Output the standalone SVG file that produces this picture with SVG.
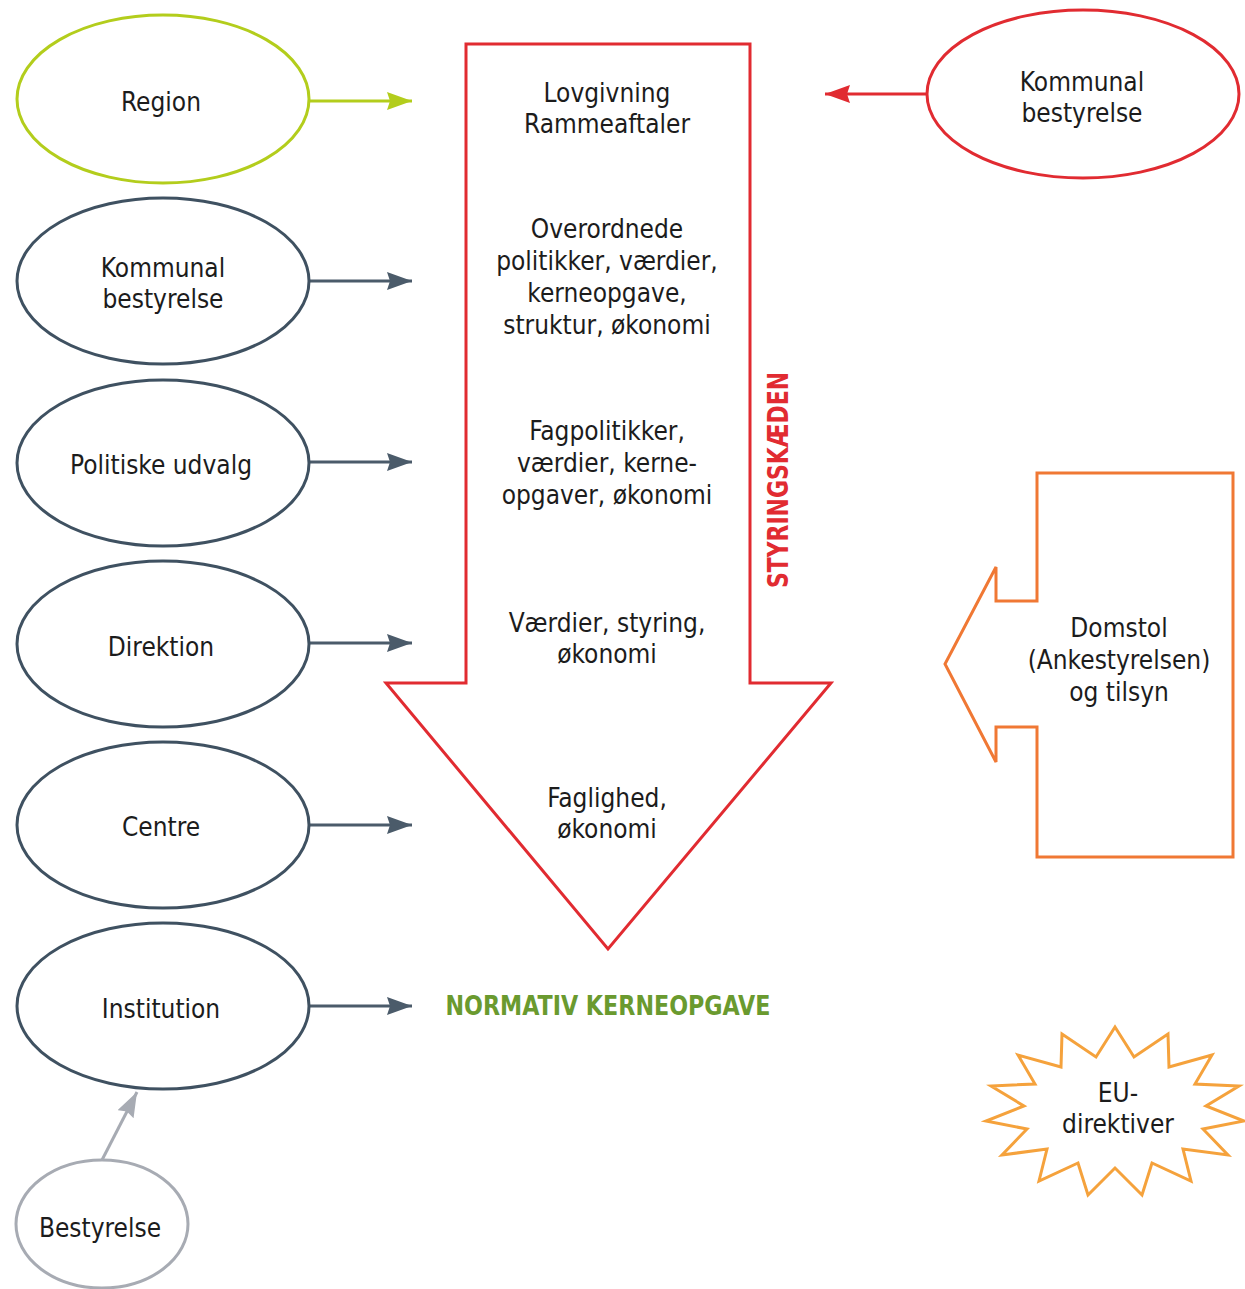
<svg xmlns="http://www.w3.org/2000/svg" width="1245" height="1289" viewBox="0 0 1245 1289">
  <defs>
    <style>
      .lbl { font-family: "DejaVu Sans Condensed", "DejaVu Sans", "Liberation Sans", sans-serif; font-stretch: condensed; font-size: 26px; fill: #1c1c1c; text-anchor: middle; }
      .node { fill: #ffffff; stroke-width: 3; }
      .slate { stroke: #3f5161; }
      .conn { fill: none; stroke-width: 3; }
    </style>
    <marker id="headSlate" markerUnits="userSpaceOnUse" markerWidth="26" markerHeight="20" refX="25" refY="9" orient="auto">
      <path d="M0,0 L25,9 L0,18 L3,9 Z" fill="#4b5b6a"/>
    </marker>
    <marker id="headGreen" markerUnits="userSpaceOnUse" markerWidth="26" markerHeight="20" refX="25" refY="9" orient="auto">
      <path d="M0,0 L25,9 L0,18 L3,9 Z" fill="#b3cd1c"/>
    </marker>
    <marker id="headRed" markerUnits="userSpaceOnUse" markerWidth="26" markerHeight="20" refX="25" refY="9" orient="auto">
      <path d="M0,0 L25,9 L0,18 L3,9 Z" fill="#e12b31"/>
    </marker>
    <marker id="headGrey" markerUnits="userSpaceOnUse" markerWidth="26" markerHeight="20" refX="25" refY="9" orient="auto">
      <path d="M0,0 L25,9 L0,18 L3,9 Z" fill="#a7abb3"/>
    </marker>
  </defs>

  <rect width="1245" height="1289" fill="#ffffff"/>

  <!-- connectors -->
  <g id="connectors">
    <line class="conn" x1="310" y1="101" x2="412" y2="101" stroke="#b3cd1c" marker-end="url(#headGreen)"/>
    <line class="conn" x1="310" y1="281" x2="412" y2="281" stroke="#4b5b6a" marker-end="url(#headSlate)"/>
    <line class="conn" x1="310" y1="462" x2="412" y2="462" stroke="#4b5b6a" marker-end="url(#headSlate)"/>
    <line class="conn" x1="310" y1="643" x2="412" y2="643" stroke="#4b5b6a" marker-end="url(#headSlate)"/>
    <line class="conn" x1="310" y1="825" x2="412" y2="825" stroke="#4b5b6a" marker-end="url(#headSlate)"/>
    <line class="conn" x1="310" y1="1006" x2="412" y2="1006" stroke="#4b5b6a" marker-end="url(#headSlate)"/>
    <line class="conn" x1="927" y1="94" x2="825" y2="94" stroke="#e12b31" marker-end="url(#headRed)"/>
    <line class="conn" x1="102" y1="1160" x2="137" y2="1092" stroke="#a7abb3" marker-end="url(#headGrey)"/>
  </g>

  <!-- governance chain arrow -->
  <g id="styringskaeden">
    <path d="M466,44 H750 V683 H831 L608,949 L386,683 H466 Z" fill="none" stroke="#e12b31" stroke-width="3"/>
    <text class="lbl" x="607" y="102">Lovgivning</text>
    <text class="lbl" x="607" y="133">Rammeaftaler</text>
    <text class="lbl" x="607" y="238">Overordnede</text>
    <text class="lbl" x="607" y="270">politikker, værdier,</text>
    <text class="lbl" x="607" y="302">kerneopgave,</text>
    <text class="lbl" x="607" y="334">struktur, økonomi</text>
    <text class="lbl" x="607" y="440">Fagpolitikker,</text>
    <text class="lbl" x="607" y="472">værdier, kerne-</text>
    <text class="lbl" x="607" y="504">opgaver, økonomi</text>
    <text class="lbl" x="607" y="632">Værdier, styring,</text>
    <text class="lbl" x="607" y="663">økonomi</text>
    <text class="lbl" x="607" y="807">Faglighed,</text>
    <text class="lbl" x="607" y="838">økonomi</text>
    <text x="788" y="480" transform="rotate(-90 788 480)" text-anchor="middle" font-family="DejaVu Sans Condensed, DejaVu Sans, Liberation Sans, sans-serif" font-weight="bold" font-size="28" fill="#e12b31" textLength="216" lengthAdjust="spacingAndGlyphs">STYRINGSKÆDEN</text>
  </g>

  <g id="normativ-kerneopgave">
    <text x="608" y="1015" text-anchor="middle" font-family="DejaVu Sans Condensed, DejaVu Sans, Liberation Sans, sans-serif" font-weight="bold" font-size="26" fill="#6a9a2f" textLength="325" lengthAdjust="spacingAndGlyphs">NORMATIV KERNEOPGAVE</text>
  </g>

  <!-- left column of actors -->
  <g id="region">
    <ellipse class="node" cx="163" cy="99" rx="146" ry="84" stroke="#b3cd1c"/>
    <text class="lbl" x="161" y="111">Region</text>
  </g>
  <g id="kommunal-bestyrelse-venstre">
    <ellipse class="node slate" cx="163" cy="281" rx="146" ry="83"/>
    <text class="lbl" x="163" y="277">Kommunal</text>
    <text class="lbl" x="163" y="308">bestyrelse</text>
  </g>
  <g id="politiske-udvalg">
    <ellipse class="node slate" cx="163" cy="463" rx="146" ry="83"/>
    <text class="lbl" x="161" y="474">Politiske udvalg</text>
  </g>
  <g id="direktion">
    <ellipse class="node slate" cx="163" cy="644" rx="146" ry="83"/>
    <text class="lbl" x="161" y="656">Direktion</text>
  </g>
  <g id="centre">
    <ellipse class="node slate" cx="163" cy="825" rx="146" ry="83"/>
    <text class="lbl" x="161" y="836">Centre</text>
  </g>
  <g id="institution">
    <ellipse class="node slate" cx="163" cy="1006" rx="146" ry="83"/>
    <text class="lbl" x="161" y="1018">Institution</text>
  </g>
  <g id="bestyrelse">
    <ellipse class="node" cx="102" cy="1224" rx="86" ry="64" stroke="#a7abb3"/>
    <text class="lbl" x="100" y="1237">Bestyrelse</text>
  </g>

  <!-- right column -->
  <g id="kommunal-bestyrelse-hoejre">
    <ellipse class="node" cx="1083" cy="94" rx="156" ry="84" stroke="#e12b31"/>
    <text class="lbl" x="1082" y="91">Kommunal</text>
    <text class="lbl" x="1082" y="122">bestyrelse</text>
  </g>
  <g id="domstol">
    <path d="M1037,473 H1233 V857 H1037 V727 H996 V762 L945,664 L996,567 V601 H1037 Z" fill="#ffffff" stroke="#f07834" stroke-width="3" stroke-linejoin="miter"/>
    <text class="lbl" x="1119" y="637">Domstol</text>
    <text class="lbl" x="1119" y="669">(Ankestyrelsen)</text>
    <text class="lbl" x="1119" y="701">og tilsyn</text>
  </g>
  <g id="eu-direktiver">
    <polygon points="1115,1027 1134,1057 1168,1034 1169,1067 1212,1055 1195,1084 1239,1086 1206,1106 1244,1121 1203,1129 1228,1155 1183,1149 1191,1181 1152,1163 1142,1195 1115,1168 1088,1195 1078,1163 1039,1181 1047,1149 1002,1155 1027,1129 986,1121 1024,1106 991,1086 1035,1084 1018,1055 1061,1067 1062,1034 1096,1057" fill="#ffffff" stroke="#f5a23c" stroke-width="3" stroke-linejoin="miter"/>
    <text class="lbl" x="1118" y="1102">EU-</text>
    <text class="lbl" x="1118" y="1133">direktiver</text>
  </g>
</svg>
